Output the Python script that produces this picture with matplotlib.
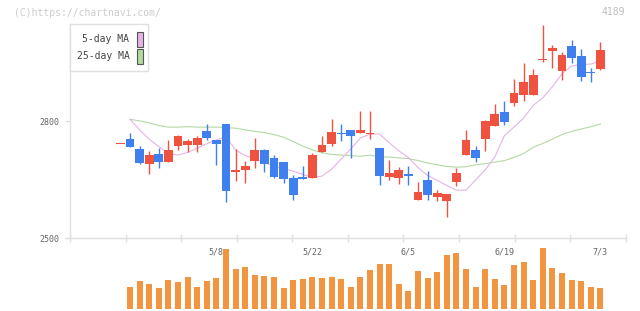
import numpy as np
import matplotlib
matplotlib.use("Agg")
import matplotlib.pyplot as plt
from matplotlib.patches import Rectangle

# ---------------- data ----------------
dates = ["4/19", "4/20", "4/21", "4/24", "4/25", "4/26", "4/27", "4/28", "5/1", "5/2",
         "5/8", "5/9", "5/10", "5/11", "5/12", "5/15", "5/16", "5/17", "5/18", "5/19",
         "5/22", "5/23", "5/24", "5/25", "5/26", "5/29", "5/30", "5/31", "6/1", "6/2",
         "6/5", "6/6", "6/7", "6/8", "6/9", "6/12", "6/13", "6/14", "6/15", "6/16",
         "6/19", "6/20", "6/21", "6/22", "6/23", "6/26", "6/27", "6/28", "6/29", "6/30",
         "7/3"]
label_dates = ["5/8", "5/22", "6/5", "6/19", "7/3"]

open_ = [2741, 2754, 2729, 2691, 2716, 2696, 2737, 2739, 2739, 2775,
         2752, 2793, 2670, 2676, 2699, 2726, 2706, 2695, 2654, 2657,
         2655, 2721, 2742, 2770, 2778, 2770, 2767, 2731, 2657, 2654,
         2664, 2598, 2649, 2605, 2595, 2644, 2713, 2726, 2754, 2788,
         2824, 2847, 2868, 2868, 2958, 2981, 2929, 2994, 2968, 2927,
         2934]
high = [2741, 2771, 2736, 2724, 2731, 2752, 2766, 2754, 2762, 2793,
        2752, 2793, 2728, 2698, 2757, 2729, 2713, 2695, 2662, 2685,
        2718, 2762, 2806, 2793, 2778, 2826, 2826, 2731, 2700, 2682,
        2685, 2644, 2672, 2623, 2613, 2680, 2778, 2736, 2803, 2844,
        2852, 2909, 2950, 2934, 3048, 2996, 2978, 3009, 2986, 2937,
        3004]
low = [2741, 2734, 2690, 2665, 2681, 2696, 2726, 2721, 2722, 2752,
       2688, 2593, 2647, 2642, 2681, 2670, 2653, 2642, 2598, 2652,
       2655, 2721, 2736, 2749, 2706, 2770, 2754, 2636, 2649, 2639,
       2636, 2598, 2598, 2595, 2554, 2634, 2713, 2695, 2724, 2788,
       2790, 2839, 2853, 2868, 2952, 2937, 2906, 2950, 2904, 2901,
       2932]
close = [2741, 2735, 2694, 2713, 2696, 2726, 2762, 2749, 2757, 2757,
         2742, 2622, 2675, 2685, 2726, 2691, 2658, 2652, 2611, 2652,
         2713, 2739, 2772, 2767, 2762, 2778, 2770, 2659, 2667, 2675,
         2659, 2618, 2610, 2616, 2613, 2667, 2752, 2706, 2801, 2819,
         2798, 2873, 2901, 2919, 2960, 2988, 2970, 2963, 2914, 2924,
         2983]

# moving averages as drawn (first day has none)
ma5 = [np.nan, 2805, 2778, 2754, 2735, 2718, 2713, 2720, 2731, 2742,
       2752, 2760, 2726, 2712, 2704, 2695, 2684, 2679, 2672, 2663,
       2656, 2659, 2677, 2703, 2729, 2757, 2767, 2767, 2745, 2724,
       2707, 2681, 2661, 2648, 2635, 2623, 2623, 2649, 2675, 2708,
       2763, 2785, 2808, 2841, 2860, 2889, 2922, 2942, 2946, 2947,
       2955]
ma25 = [np.nan, 2805, 2801, 2796, 2789, 2785, 2785, 2786, 2785, 2785,
        2785, 2784, 2782, 2778, 2774, 2771, 2766, 2759, 2748, 2736,
        2726, 2719, 2715, 2713, 2712, 2710, 2713, 2709, 2708, 2706,
        2704, 2699, 2693, 2688, 2684, 2682, 2683, 2688, 2691, 2695,
        2699, 2707, 2717, 2733, 2743, 2754, 2766, 2774, 2780, 2786,
        2793]

# volume (thousand shares); first day not shown
volume = [np.nan, 22, 28, 25, 21, 29, 27, 32, 22, 28,
          31, 60, 40, 42, 34, 33, 32, 21, 29, 30,
          32, 31, 32, 30, 22, 32, 39, 45, 45, 25,
          18, 38, 31, 37, 54, 56, 40, 22, 40, 30,
          24, 44, 47, 29, 61, 41, 36, 29, 28, 22,
          21]

# ---------------- style ----------------
W, H = 640, 311
UP = "#f05240"
DOWN = "#3f7ff0"
VOL = "#f29540"
PINK = "#e6b3e6"
GREEN = "#b3d9a3"
AXC = "#e0e0e0"
TXT = "#666666"
MONO = "DejaVu Sans Mono"

fig = plt.figure(figsize=(W / 100, H / 100), dpi=100)
fig.patch.set_facecolor("white")

def fx(px):
    return px / W

def fy(py):
    return 1 - py / H

x0, x1 = 70, 625.7
xmin, xmax = -5.25, 52.64
ax = fig.add_axes([fx(x0), fy(238), fx(x1 - x0), (238 - 24) / H])
axv = fig.add_axes([fx(x0), fy(309), fx(x1 - x0), (309 - 245) / H])

idx = np.arange(len(dates))
o = np.array(open_, float)
c = np.array(close, float)
h = np.array(high, float)
l = np.array(low, float)

ymin, ymax = 2500, 3050
px_per_price = (238 - 24) / (ymax - ymin)
min_body = 1.0 / px_per_price

colors = [UP if cc >= oo else DOWN for oo, cc in zip(o, c)]

# moving averages below candles
ax.plot(idx, ma25, color=GREEN, lw=0.8, zorder=1)
ax.plot(idx, ma5, color=PINK, lw=0.8, zorder=1)

ax.vlines(idx, l, h, colors=colors, lw=1.0, zorder=2)
bottoms = np.minimum(o, c)
heights = np.maximum(np.abs(c - o), min_body)
ax.bar(idx, heights, bottom=bottoms, width=0.92, color=colors, linewidth=0, zorder=3)

ax.set_xlim(xmin, xmax)
ax.set_ylim(ymin, ymax)
for s in ["top", "right"]:
    ax.spines[s].set_visible(False)
ax.spines["left"].set_color(AXC)
ax.spines["bottom"].set_color(AXC)
ax.spines["left"].set_linewidth(1.0)
ax.spines["bottom"].set_linewidth(1.0)
ax.set_facecolor("none")

ax.set_yticks([2500, 2800])
ax.set_yticklabels(["2500", "2800"], fontfamily=MONO, fontsize=6, color=TXT)
ax.tick_params(axis="y", direction="out", length=3.6, width=1.0, color=AXC, pad=4)
ax.set_xticks(np.linspace(xmin, xmax, 11))
ax.set_xticklabels([])
ax.tick_params(axis="x", direction="inout", length=5.8, width=1.0, color=AXC)

for d in label_dates:
    i = dates.index(d)
    ax.text(i, -0.065, d, transform=ax.get_xaxis_transform(), ha="center", va="center",
            fontfamily=MONO, fontsize=6, color=TXT, clip_on=False)

# volume
axv.bar(idx, volume, width=0.62, color=VOL, linewidth=0)
axv.set_xlim(xmin, xmax)
axv.set_ylim(0, 64)
axv.axis("off")

# watermark texts
fig.text(fx(14), fy(13), "(C)https://chartnavi.com/", fontfamily=MONO, fontsize=7,
         color="#cccccc", ha="left", va="center")
fig.text(fx(625), fy(12), "4189", fontfamily=MONO, fontsize=7,
         color="#bbbbbb", ha="right", va="center")

# legend box
fig.patches.append(Rectangle((fx(70), fy(71)), fx(78), 47 / H, transform=fig.transFigure,
                             facecolor="white", edgecolor=AXC, lw=1.0, zorder=5))
for label, col, yc in [("5-day MA", PINK, 39), ("25-day MA", GREEN, 56)]:
    fig.text(fx(129.5), fy(yc), label, fontfamily=MONO, fontsize=7, color="#444444",
             ha="right", va="center", zorder=6)
    fig.patches.append(Rectangle((fx(136.5), fy(yc + 7.5)), fx(6), 15 / H,
                                 transform=fig.transFigure, facecolor=col,
                                 edgecolor="#555555", lw=0.8, zorder=6))

fig.savefig("out.png", dpi=100)
